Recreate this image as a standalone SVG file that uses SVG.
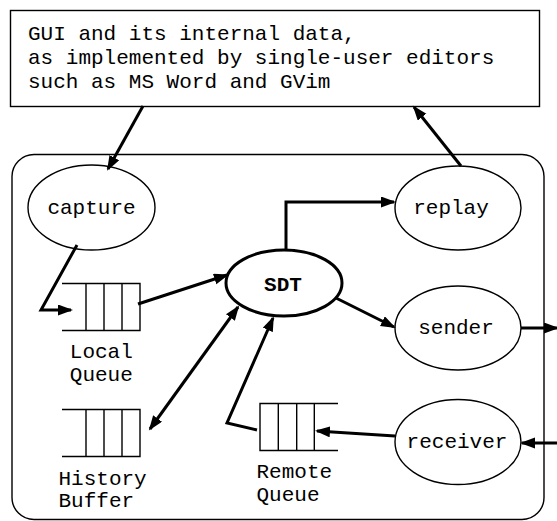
<svg xmlns="http://www.w3.org/2000/svg" width="557" height="521" viewBox="0 0 557 521">
<style>
.box{fill:#fff;stroke:#000;stroke-width:1.4}
.ell{fill:#fff;stroke:#000;stroke-width:1.4}
.sdt{fill:#fff;stroke:#000;stroke-width:3}
.q{fill:none;stroke:#000;stroke-width:1.4}
.t{font-family:"Liberation Mono","Courier New",monospace;font-size:21px;fill:#000}
.c{stroke:#000;stroke-width:3;fill:none}
</style>
<defs>
<marker id="ah" markerUnits="userSpaceOnUse" markerWidth="16" markerHeight="12" refX="13" refY="5.5" orient="auto-start-reverse">
<path d="M0,0 L15,5.5 L0,11 z" fill="#000"/>
</marker>
</defs>
<rect x="0" y="0" width="557" height="521" fill="#fff"/>
<g id="gui">
<rect class="box" x="10.5" y="10.5" width="529" height="96"/>
<text class="t" x="28" y="40">GUI and its internal data,</text>
<text class="t" x="28" y="64">as implemented by single-user editors</text>
<text class="t" x="28" y="88">such as MS Word and GVim</text>
</g>
<g id="container">
<rect class="box" x="12" y="154.5" width="532" height="365" rx="22" ry="22" fill="none"/>
</g>
<g id="capture">
<ellipse class="ell" cx="91.5" cy="207.5" rx="63.5" ry="42.5"/>
<text class="t" x="91.5" y="214" text-anchor="middle">capture</text>
</g>
<g id="replay">
<ellipse class="ell" cx="458" cy="208" rx="63" ry="42"/>
<text class="t" x="451" y="214" text-anchor="middle">replay</text>
</g>
<g id="sdt">
<ellipse class="sdt" cx="284" cy="283" rx="58" ry="33"/>
<text class="t" x="283" y="291" text-anchor="middle" font-weight="bold">SDT</text>
</g>
<g id="sender">
<ellipse class="ell" cx="458" cy="328" rx="63" ry="42"/>
<text class="t" x="456" y="334" text-anchor="middle">sender</text>
</g>
<g id="receiver">
<ellipse class="ell" cx="458" cy="442" rx="63" ry="42.5"/>
<text class="t" x="457" y="448" text-anchor="middle">receiver</text>
</g>
<g id="local-queue">
<path class="q" d="M62,283.5 H140 V330.5 H62 M86,283.5 V330.5 M104,283.5 V330.5 M122,283.5 V330.5"/>
<text class="t" x="101.3" y="358" text-anchor="middle">Local</text>
<text class="t" x="101.3" y="381" text-anchor="middle">Queue</text>
</g>
<g id="history-buffer">
<path class="q" d="M62,409.5 H140 V456.5 H62 M86,409.5 V456.5 M104,409.5 V456.5 M122,409.5 V456.5"/>
<text class="t" x="58.5" y="485">History</text>
<text class="t" x="58.5" y="507">Buffer</text>
</g>
<g id="remote-queue">
<path class="q" d="M338,403.5 H260 V450.5 H338 M278.3,403.5 V450.5 M296.7,403.5 V450.5 M314.3,403.5 V450.5"/>
<text class="t" x="256.5" y="478">Remote</text>
<text class="t" x="256.5" y="500.5">Queue</text>
</g>
<g id="connectors">
<path class="c" d="M143,106 L108,169" marker-end="url(#ah)"/>
<path class="c" d="M461,166 L414,107" marker-end="url(#ah)"/>
<path class="c" d="M77,245 L41,310 L71,310" marker-end="url(#ah)"/>
<path class="c" d="M138,304 L227,275" marker-end="url(#ah)"/>
<path class="c" d="M286,250 L286,202 L394,202" marker-end="url(#ah)"/>
<path class="c" d="M336,298 L394,327" marker-end="url(#ah)"/>
<path class="c" d="M521,328 L557,328" marker-end="url(#ah)"/>
<path class="c" d="M557,443 L522,443" marker-end="url(#ah)"/>
<path class="c" d="M395,436 L317,431" marker-end="url(#ah)"/>
<path class="c" d="M257,430 L227,423 L273,318" marker-end="url(#ah)"/>
<path class="c" d="M238,307 L150,429" marker-start="url(#ah)" marker-end="url(#ah)"/>
</g>
</svg>
